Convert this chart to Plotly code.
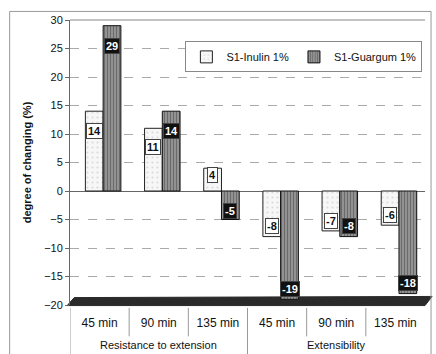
import plotly.graph_objects as go

# Data
groups = ["Resistance to extension", "Extensibility"]
times = ["45 min", "90 min", "135 min", "45 min", "90 min", "135 min"]
inulin = [14, 11, 4, -8, -7, -6]
guargum = [29, 14, -5, -19, -8, -18]
y_ticks = [-20, -15, -10, -5, 0, 5, 10, 15, 20, 25, 30]

FONT = "Liberation Sans, Arial, sans-serif"
BAR_W = 0.3
x = list(range(len(times)))

fig = go.Figure()
fig.add_trace(go.Bar(
    name="S1-Inulin 1%", x=x, y=inulin, width=BAR_W, offset=-0.24,
    marker=dict(color="#f4f4f4", line=dict(color="#222", width=1),
                pattern=dict(shape=".", fgcolor="#bbbbbb", bgcolor="#f7f7f7",
                             size=5, solidity=0.15)),
))
fig.add_trace(go.Bar(
    name="S1-Guargum 1%", x=x, y=guargum, width=BAR_W, offset=0.06,
    marker=dict(color="#808080", line=dict(color="#111", width=1),
                pattern=dict(shape="|", fgcolor="#3a3a3a", bgcolor="#9a9a9a",
                             size=3, solidity=0.45)),
))

annotations = []
# value labels placed just inside the bar tip
for vals, off, bg, fg in [(inulin, -0.24, "white", "#111"),
                          (guargum, 0.06, "#111", "white")]:
    for i, v in enumerate(vals):
        d = min(3.5 if v > 0 else 1.8, abs(v) * 0.3)
        yl = v - d if v > 0 else v + d
        annotations.append(dict(
            x=i + off + BAR_W / 2, y=yl, xref="x", yref="y", text=str(v),
            showarrow=False, bgcolor=bg, bordercolor="#444", borderwidth=1,
            borderpad=1, font=dict(family=FONT, size=11, color=fg, weight="bold"),
        ))

# group labels under the category row
for gi, g in enumerate(groups):
    annotations.append(dict(
        x=1 + 3 * gi, y=-0.14, xref="x", yref="paper", text=g,
        showarrow=False, yanchor="middle",
        font=dict(family=FONT, size=11, color="#111"),
    ))

shapes = []
# dark 3-D floor at the bottom of the plot
shapes.append(dict(type="path", xref="paper", yref="paper", layer="below",
                   path="M -0.008,-0.002 L 0.012,0.026 L 1.02,0.03 L 1.0,-0.002 Z",
                   fillcolor="#2a2a2a", line=dict(color="#2a2a2a", width=1)))
# dividers between categories and groups
for b in [-0.5, 0.5, 1.5, 2.5, 3.5, 4.5]:
    long = b in (-0.5, 2.5)
    shapes.append(dict(type="line", xref="x", yref="paper", x0=b, x1=b,
                       y0=-0.01, y1=-0.2 if long else -0.11,
                       line=dict(color="#999", width=1)))
# outer chart frame
shapes.append(dict(type="rect", xref="paper", yref="paper",
                   x0=-0.17, x1=1.017, y0=-0.2, y1=1.03,
                   line=dict(color="#999", width=1)))
# top edge of plot wall
shapes.append(dict(type="line", xref="paper", yref="paper",
                   x0=0.0, x1=1.0, y0=1.0, y1=1.0,
                   line=dict(color="#888", width=1)))

fig.update_layout(
    width=436, height=354,
    margin=dict(l=70, r=11, t=20, b=49),
    paper_bgcolor="white", plot_bgcolor="white",
    barmode="group",
    font=dict(family=FONT, size=11, color="#111"),
    showlegend=True,
    legend=dict(orientation="h", x=0.325, y=0.925, xanchor="left", yanchor="top",
                bgcolor="white", bordercolor="#888", borderwidth=1,
                font=dict(family=FONT, size=11, color="#111"),
                itemwidth=30, tracegroupgap=0),
    annotations=annotations,
    shapes=shapes,
)
fig.update_xaxes(
    range=[-0.5, 5.5], tickvals=x, ticktext=times, showgrid=False,
    zeroline=False, showline=False, ticks="", ticklabelstandoff=9,
    tickfont=dict(family=FONT, size=12, color="#111"),
)
fig.update_yaxes(
    range=[-20, 30], tickvals=y_ticks, showgrid=True, gridcolor="#aaa",
    griddash="dash", gridwidth=1, zeroline=True, zerolinecolor="#666",
    zerolinewidth=1, showline=True, linecolor="#666", ticks="outside",
    ticklen=4, tickcolor="#666",
    tickfont=dict(family=FONT, size=11, color="#111"),
    title=dict(text="<b>degree of changing (%)</b>", standoff=10,
               font=dict(family=FONT, size=11, color="#111")),
)

fig.write_html("out.html")
